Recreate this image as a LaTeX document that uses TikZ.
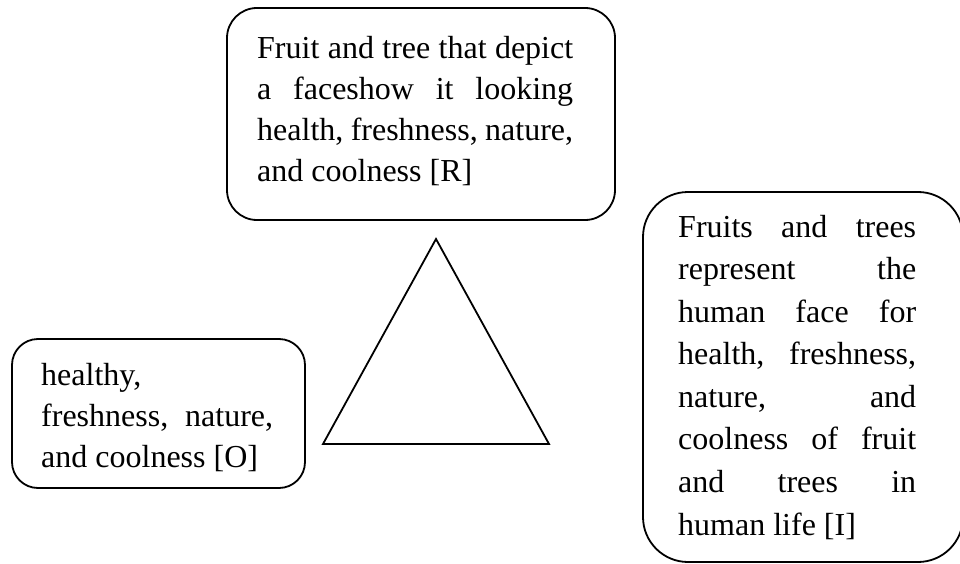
\documentclass[tikz,border=0pt]{standalone}
\usepackage{fontspec}
\setmainfont{Liberation Serif}
\frenchspacing
% a justified line of given width
\newcommand{\jline}[2]{\makebox[#1][s]{#2}}
\begin{document}
\begin{tikzpicture}[x=1pt,y=-1pt,
  box/.style={draw=black, line width=1.8pt, rectangle, inner sep=0pt},
  txt/.style={inner sep=0pt, anchor=base west, font=\fontsize{32}{40}\selectfont}]
\useasboundingbox (0,0) rectangle (960,564);

% rounded frames
\node[box, rounded corners=30pt, minimum width=388pt, minimum height=212pt] (rbox) at (421,114) {};
\node[box, rounded corners=26pt, minimum width=293pt, minimum height=149pt] (obox) at (158.5,413.5) {};
\node[box, rounded corners=45pt, minimum width=320pt, minimum height=370pt] (ibox) at (803,377) {};

% triangle
\coordinate (apex) at (436,239);
\coordinate (bl) at (323,444);
\coordinate (br) at (549,444);
\draw[line width=1.8pt, line join=miter] (apex) -- (bl) -- (br) -- cycle;

% text of the top frame
\node[txt] (r1) at (257,59)  {\jline{316pt}{Fruit and tree that depict}};
\node[txt] (r2) at (257,100) {\jline{316pt}{a faceshow it looking}};
\node[txt] (r3) at (257,141) {\jline{316pt}{health, freshness, nature,}};
\node[txt] (r4) at (257,182) {and coolness [R]};

% text of the left frame
\node[txt] (o1) at (41,385) {healthy,};
\node[txt] (o2) at (41,426) {\jline{232pt}{freshness, nature,}};
\node[txt] (o3) at (41,467) {and coolness [O]};

% text of the right frame
\node[txt] (i1) at (678,237)   {\jline{238pt}{Fruits and trees}};
\node[txt] (i2) at (678,279.6) {\jline{238pt}{represent the}};
\node[txt] (i3) at (678,322.1) {\jline{238pt}{human face for}};
\node[txt] (i4) at (678,364.7) {\jline{238pt}{health, freshness,}};
\node[txt] (i5) at (678,407.3) {\jline{238pt}{nature, and}};
\node[txt] (i6) at (678,449.9) {\jline{238pt}{coolness of fruit}};
\node[txt] (i7) at (678,492.4) {\jline{238pt}{and trees in}};
\node[txt] (i8) at (678,535)   {human life [I]};
\end{tikzpicture}
\end{document}
